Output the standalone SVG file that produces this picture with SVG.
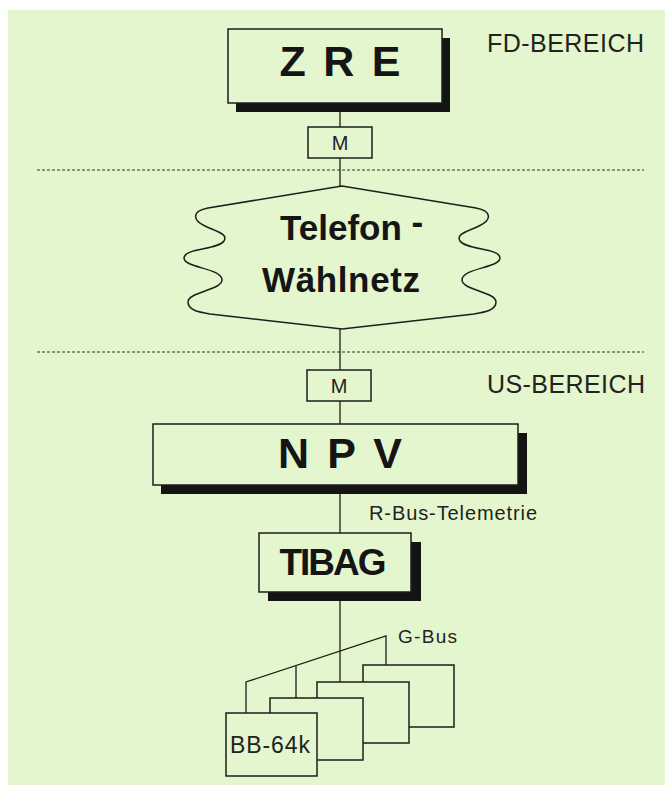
<svg xmlns="http://www.w3.org/2000/svg" width="665" height="793" viewBox="0 0 665 793">
<style>
.panel{fill:#e3f6cd}
.box{fill:#e3f6cd;stroke:#1e1e1e;stroke-width:1.5}
.shadow{fill:#141414}
.conn{stroke:#1e1e1e;stroke-width:1.3;fill:none}
.dash{stroke:#333;stroke-width:1.2;stroke-dasharray:3 2;fill:none}
.big{font-family:"Liberation Sans",Arial,sans-serif;font-weight:bold;fill:#151515}
.thin{font-family:"Liberation Sans",Arial,sans-serif;fill:#222}
</style>
<rect x="0" y="0" width="665" height="793" fill="#ffffff"/>
<rect class="panel" x="8" y="10" width="657" height="775"/>

<g id="separators">
<line class="dash" x1="37" y1="170" x2="644" y2="170"/>
<line class="dash" x1="37" y1="352" x2="644" y2="352"/>
</g>

<g id="connectors">
<line class="conn" x1="340" y1="103" x2="340" y2="127"/>
<line class="conn" x1="340" y1="158" x2="340" y2="186"/>
<line class="conn" x1="340" y1="329" x2="340" y2="370"/>
<line class="conn" x1="340" y1="401" x2="340" y2="424"/>
<line class="conn" x1="340" y1="485" x2="340" y2="533"/>
<line class="conn" x1="340" y1="592" x2="340" y2="682"/>
<polyline class="conn" points="246,713 246,682 386,636 386,665"/>
<line class="conn" x1="296" y1="666" x2="296" y2="698"/>
</g>

<g id="label-fd"><text class="thin" x="487" y="52" font-size="25" textLength="157">FD-BEREICH</text></g>
<g id="label-us"><text class="thin" x="487" y="393" font-size="25" textLength="158">US-BEREICH</text></g>
<g id="label-rbus"><text class="thin" x="369" y="520" font-size="20" textLength="168">R-Bus-Telemetrie</text></g>
<g id="label-gbus"><text class="thin" x="398" y="643" font-size="19" textLength="59">G-Bus</text></g>

<g id="zre">
<rect class="shadow" x="236" y="38" width="214" height="74"/>
<rect class="box" x="228" y="29" width="214" height="74"/>
<text class="big" x="340" y="76" font-size="43" text-anchor="middle" textLength="121">Z R E</text>
</g>

<g id="modem-top">
<rect class="box" x="308" y="127" width="64" height="31"/>
<text class="thin" x="340" y="150" font-size="20" text-anchor="middle">M</text>
</g>

<g id="telefon-waehlnetz">
<path class="box" d="M342,186 L208,208 C192,211 192,220 205,226 C218,232 228,234 224,241 C218,250 184,248 184,258 C184,268 222,268 222,280 C222,290 188,292 188,302 C188,310 198,312 210,314 Q280,322 342,329 Q404,322 474,314 C486,312 496,310 496,302 C496,292 462,290 462,280 C462,268 500,268 500,258 C500,248 466,250 460,241 C456,234 466,232 479,226 C492,220 492,211 476,208 Z"/>
<text class="big" x="280" y="240" font-size="35">Telefon <tspan dy="-6">-</tspan></text>
<text class="big" x="262" y="292" font-size="35" textLength="158">Wählnetz</text>
</g>

<g id="modem-bottom">
<rect class="box" x="307" y="370" width="64" height="31"/>
<text class="thin" x="339" y="393" font-size="20" text-anchor="middle">M</text>
</g>

<g id="npv">
<rect class="shadow" x="161" y="433" width="366" height="61"/>
<rect class="box" x="153" y="424" width="365" height="61"/>
<text class="big" x="340" y="468" font-size="43" text-anchor="middle" textLength="124">N P V</text>
</g>

<g id="tibag">
<rect class="shadow" x="268" y="542" width="153" height="59"/>
<rect class="box" x="259" y="533" width="152" height="59"/>
<text class="big" x="333" y="575" font-size="37" text-anchor="middle" textLength="107">TIBAG</text>
</g>

<g id="bb4"><rect class="box" x="363" y="665" width="91" height="62"/></g>
<g id="bb3"><rect class="box" x="317" y="682" width="92" height="61"/></g>
<g id="bb2"><rect class="box" x="270" y="698" width="93" height="62"/></g>
<g id="bb1">
<rect class="box" x="226" y="713" width="91" height="63"/>
<text class="thin" x="230" y="753" font-size="23" textLength="80">BB-64k</text>
</g>
</svg>
